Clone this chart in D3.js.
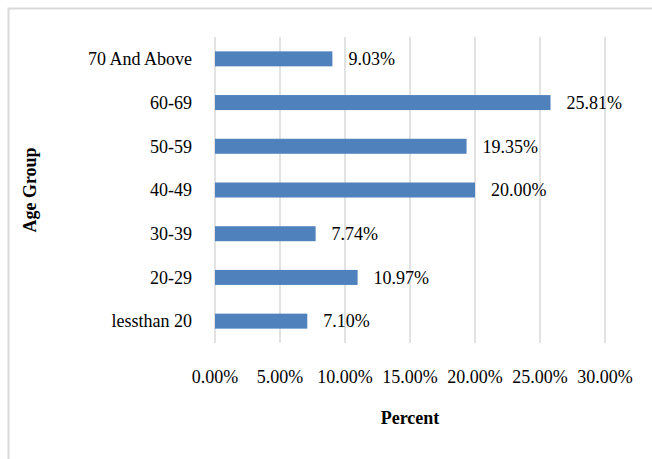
<!DOCTYPE html>
<html>
<head>
<meta charset="utf-8">
<script src="https://cdn.jsdelivr.net/npm/d3@7"></script>
<style>
  html, body { margin: 0; padding: 0; background: #fff; }
  svg { display: block; }
  text { font-family: "Liberation Serif", "Times New Roman", serif; fill: #000; }
</style>
</head>
<body>
<svg id="chart" width="652" height="459"></svg>
<script>
// Age groups from top to bottom, with their share in percent
const categories = ["70 And Above", "60-69", "50-59", "40-49", "30-39", "20-29", "lessthan 20"];
const percents = [9.03, 25.81, 19.35, 20.00, 7.74, 10.97, 7.10];
const ticks = [0, 5, 10, 15, 20, 25, 30];
const xTitle = "Percent";
const yTitle = "Age Group";

const svg = d3.select("#chart");
const plot = { left: 215, right: 605, top: 37, bottom: 343 };

// outer chart frame
svg.append("rect")
  .attr("x", 8.5).attr("y", 8.5)
  .attr("width", 700).attr("height", 500)
  .attr("fill", "none")
  .attr("stroke", "#d9d9d9")
  .attr("stroke-width", 2);

const x = d3.scaleLinear().domain([0, 30]).range([plot.left, plot.right]);
const y = d3.scaleBand().domain(categories)
  .range([plot.top, plot.bottom])
  .paddingInner(0.657).paddingOuter(0.3285);

// vertical gridlines
svg.append("g").selectAll("line").data(ticks).join("line")
  .attr("x1", d => x(d)).attr("x2", d => x(d))
  .attr("y1", plot.top).attr("y2", plot.bottom)
  .attr("stroke", "#d9d9d9").attr("stroke-width", 1.5);

// x tick labels
svg.append("g").selectAll("text").data(ticks).join("text")
  .attr("x", d => x(d)).attr("y", 383)
  .attr("text-anchor", "middle")
  .style("font-size", "18px")
  .text(d => d.toFixed(2) + "%");

// category labels
svg.append("g").selectAll("text").data(categories).join("text")
  .attr("x", 192)
  .attr("y", d => y(d) + y.bandwidth() / 2)
  .attr("dy", "0.35em")
  .attr("text-anchor", "end")
  .style("font-size", "18px")
  .text(d => d);

const rows = categories.map((c, i) => ({ c, v: percents[i] }));

// bars
svg.append("g").selectAll("rect").data(rows).join("rect")
  .attr("x", x(0))
  .attr("y", d => y(d.c))
  .attr("width", d => x(d.v) - x(0))
  .attr("height", y.bandwidth())
  .attr("fill", "#4f81bd");

// value labels
svg.append("g").selectAll("text").data(rows).join("text")
  .attr("x", d => x(d.v) + 16)
  .attr("y", d => y(d.c) + y.bandwidth() / 2)
  .attr("dy", "0.35em")
  .style("font-size", "18px")
  .text(d => d.v.toFixed(2) + "%");

// axis titles
svg.append("text")
  .attr("x", 410).attr("y", 424)
  .attr("text-anchor", "middle")
  .style("font-size", "18px").style("font-weight", "bold")
  .text(xTitle);

svg.append("text")
  .attr("transform", "translate(30,190) rotate(-90)")
  .attr("text-anchor", "middle")
  .attr("dy", "0.35em")
  .style("font-size", "18px").style("font-weight", "bold")
  .text(yTitle);
</script>
</body>
</html>
